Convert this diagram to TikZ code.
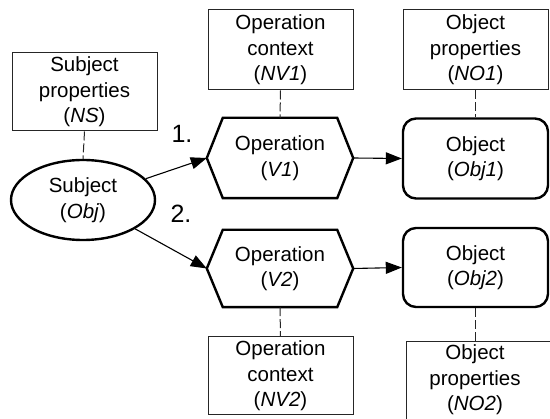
\documentclass[tikz,border=0pt]{standalone}
\usepackage{fontspec}
\setmainfont{Liberation Sans}
\usetikzlibrary{arrows.meta,shapes.geometric}
\begin{document}
\begin{tikzpicture}[x=1pt,y=-1pt,
  every node/.style={font=\fontsize{20.5}{25.5}\selectfont, align=center, inner sep=0pt},
  thinbox/.style={draw=black!85, line width=1pt, minimum width=145pt},
  heavy/.style={draw=black, line width=2.4pt},
  plainnode/.style={minimum width=146pt, minimum height=80pt},
  link/.style={draw=black!85, line width=1pt, dash pattern=on 9pt off 3pt},
  arr/.style={draw=black, line width=1.1pt, -{Triangle[length=16pt,width=12pt]}},
  lab/.style={font=\fontsize{25}{28}\selectfont}]
\useasboundingbox (0,0) rectangle (550,419);
\clip (0,0) rectangle (550,419);

% Subject
\node[thinbox, minimum width=145pt, minimum height=78pt] (ns) at (84.5,92) {Subject\\properties\\(\textit{NS})};
\node[heavy, ellipse, minimum width=144pt, minimum height=80pt] (subj) at (83,200) {Subject\\(\textit{Obj})};
\draw[link] (ns.south) -- (subj.north);

% Operation 1
\node[plainnode] (v1) at (280,158) {Operation\\(\textit{V1})};
\draw[heavy, line join=miter] (v1.west) -- ([xshift=16pt]v1.north west) -- ([xshift=-16pt]v1.north east) -- (v1.east) -- ([xshift=-16pt]v1.south east) -- ([xshift=16pt]v1.south west) -- cycle;
\node[thinbox, minimum height=80pt] (nv1) at (280.5,50) {Operation\\context\\(\textit{NV1})};
\draw[link] (nv1.south) -- (v1.north);

% Object 1
\node[heavy, rounded corners=13pt, minimum width=145pt, minimum height=80pt] (o1) at (475.5,158.5) {Object\\(\textit{Obj1})};
\node[thinbox, minimum height=80pt] (no1) at (475.5,50) {Object\\properties\\(\textit{NO1})};
\draw[link] (no1.south) -- (o1.north);

% Operation 2
\node[plainnode, minimum height=77pt] (v2) at (280,268.5) {Operation\\(\textit{V2})};
\draw[heavy, line join=miter] (v2.west) -- ([xshift=16pt]v2.north west) -- ([xshift=-16pt]v2.north east) -- (v2.east) -- ([xshift=-16pt]v2.south east) -- ([xshift=16pt]v2.south west) -- cycle;
\node[thinbox, minimum height=78pt] (nv2) at (280.5,376) {Operation\\context\\(\textit{NV2})};
\draw[link] (v2.south) -- (nv2.north);

% Object 2
\node[heavy, rounded corners=13pt, minimum width=145pt, minimum height=79pt] (o2) at (475.5,267.5) {Object\\(\textit{Obj2})};
\node[thinbox, minimum width=150pt, minimum height=84pt] (no2) at (481,384) {};
\node (no2t) at (475,380) {Object\\properties\\(\textit{NO2})};
\draw[link] (o2.south) -- (no2.north -| o2.south);

% Arrows
\draw[arr] (subj) -- (v1.west);
\draw[arr] (subj) -- (v2.west);
\draw[arr] (v1.east) -- (o1.west);
\draw[arr] (v2.east) -- (o2.west);

% Labels
\node[lab] (l1) at (182,134) {1.};
\node[lab] (l2) at (181,214) {2.};
\end{tikzpicture}
\end{document}
